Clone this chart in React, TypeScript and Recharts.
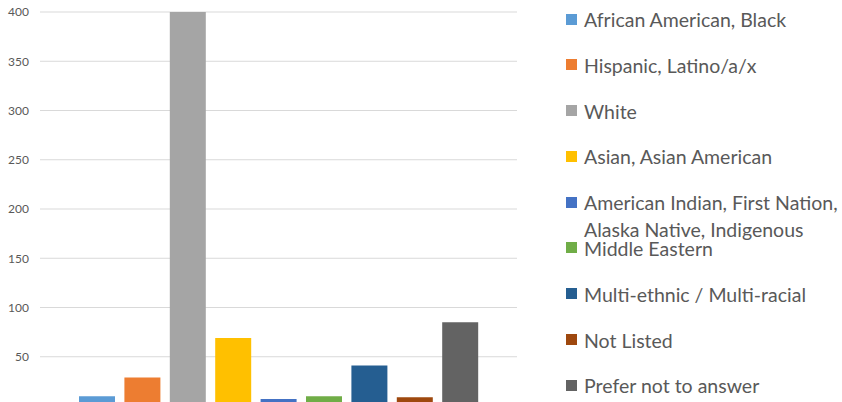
import { BarChart, Bar, XAxis, YAxis, CartesianGrid } from 'recharts'

const groups = ['African American, Black', 'Hispanic, Latino/a/x', 'White', 'Asian, Asian American', 'American Indian, First Nation, Alaska Native, Indigenous', 'Middle Eastern', 'Multi-ethnic / Multi-racial', 'Not Listed', 'Prefer not to answer']
const counts = [10, 29, 400, 69, 7, 10, 41, 9, 85]
const COLORS = ['#5B9BD5', '#ED7D31', '#A5A5A5', '#FFC000', '#4472C4', '#70AD47', '#255E91', '#9E480E', '#636363']
const yTicks = [50, 100, 150, 200, 250, 300, 350, 400]

const row: any = { name: 'Race / Ethnicity' }
groups.forEach((g, i) => { row['s' + i] = counts[i] })
const data = [row]

const FONT = 'Lato, "Open Sans", sans-serif'

// legend drawn by hand so the order stays as in the data
function LegendList() {
  return (
    <div style={{ position: 'absolute', left: 566, top: 6, width: 276, fontFamily: FONT, fontSize: 19.5, color: '#595959' }}>
      {groups.map((g, i) => (
        <div key={g} style={{ height: 45.8, position: 'relative' }}>
          <span style={{ position: 'absolute', left: 0, top: 7.5, width: 11, height: 11, background: COLORS[i] }} />
          <span style={{ position: 'absolute', left: 18, top: 0, width: 262, lineHeight: '27px' }}>{g}</span>
        </div>
      ))}
    </div>
  )
}

export default function App() {
  return (
    <div style={{ position: 'absolute', left: 0, top: 0, width: 842, height: 402, overflow: 'hidden', background: '#fff' }}>
      <BarChart width={842} height={420} data={data} margin={{ top: 12, right: 325, bottom: 14, left: 0 }} barSize={36} barGap={9.4}>
        <CartesianGrid vertical={false} stroke="#D9D9D9" strokeWidth={1.2} />
        <XAxis dataKey="name" hide />
        <YAxis width={40} domain={[0, 400]} ticks={yTicks} axisLine={false} tickLine={false} tickSize={0} tickMargin={11}
          tick={{ fill: '#595959', fontSize: 12, fontFamily: FONT }} interval={0} />
        {groups.map((g, i) => (
          <Bar key={g} dataKey={'s' + i} name={g} fill={COLORS[i]} isAnimationActive={false} />
        ))}
      </BarChart>
      <LegendList />
    </div>
  )
}
